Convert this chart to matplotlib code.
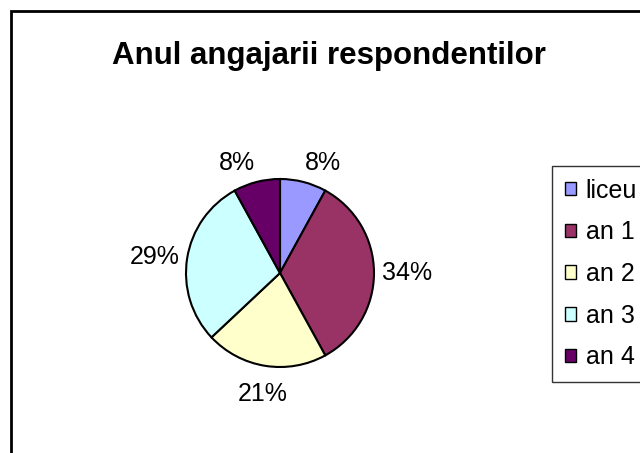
import numpy as np
import matplotlib.pyplot as plt
from matplotlib.patches import Patch, Rectangle

plt.rcParams['font.family'] = ['Liberation Sans', 'DejaVu Sans']

categories = ["liceu", "an 1", "an 2", "an 3", "an 4"]
shares = [8, 34, 21, 29, 8]
colors = ["#9999FF", "#993366", "#FFFFCC", "#CCFFFF", "#660066"]
title = "Anul angajarii respondentilor"

W, H = 640, 453
fig = plt.figure(figsize=(W / 100, H / 100), dpi=100)

# chart area border (runs off the right and bottom edges)
fig.patches.append(Rectangle((11 / W, -0.1), 1.0, 1 - 11 / H + 0.1,
                             transform=fig.transFigure, fill=False,
                             edgecolor="black", linewidth=2))

cx, cy, r = 280, 273, 94
ax = fig.add_axes([(cx - r) / W, (H - cy - r) / H, 2 * r / W, 2 * r / H])
wedges, texts, autotexts = ax.pie(
    shares, colors=colors, startangle=90, counterclock=False,
    autopct=lambda p: f"{p:.0f}%",
    wedgeprops=dict(edgecolor="black", linewidth=1.5),
    textprops=dict(fontsize=18, color="black"))
ax.set_xlim(-1, 1)
ax.set_ylim(-1, 1)

# put the percentages just outside the rim, anchored on the side facing the pie
for w, t in zip(wedges, autotexts):
    ang = np.deg2rad((w.theta1 + w.theta2) / 2)
    c, s = np.cos(ang), np.sin(ang)
    d = 1.08 + 0.1 * max(0.0, -s)
    t.set_position((d * c, d * s))
    t.set_ha("left" if c > 0.2 else "right" if c < -0.2 else "center")
    t.set_va("bottom" if s > 0.3 else "top" if s < -0.3 else "center")

fig.text(329 / W, 1 - 56 / H, title, ha="center", va="center",
         fontsize=22.5, fontweight="bold")

handles = [Patch(facecolor=c, edgecolor="black", linewidth=1) for c in colors]
leg = fig.legend(handles, categories, loc="upper left",
                 bbox_to_anchor=(552 / W, 1 - 166 / H), borderaxespad=0,
                 fontsize=18, frameon=True, fancybox=False, shadow=False,
                 handlelength=0.45, handleheight=0.45, handletextpad=0.4,
                 borderpad=0.5, labelspacing=0.71)
leg.get_frame().set_edgecolor("black")
leg.get_frame().set_linewidth(1)

fig.savefig("out.png", dpi=100)
